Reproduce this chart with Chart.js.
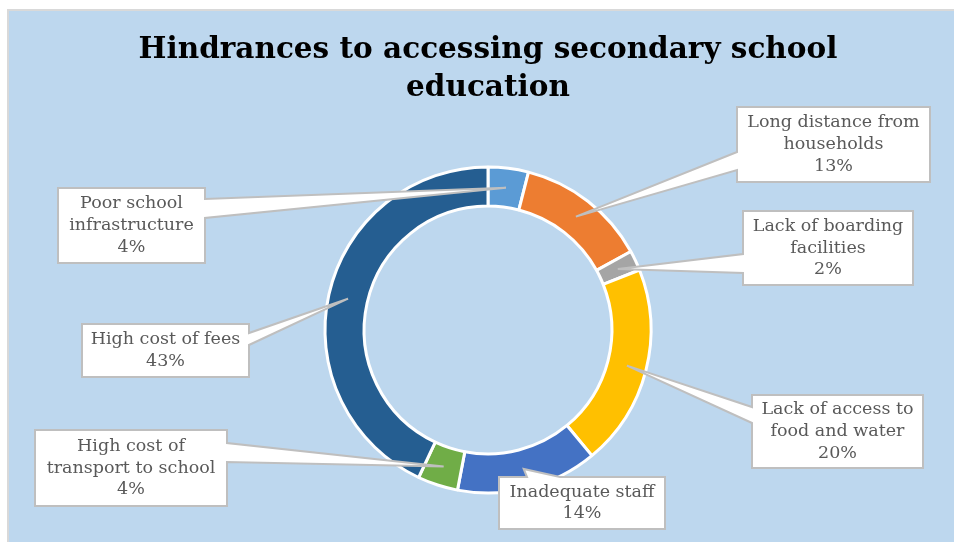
<!DOCTYPE html>
<html>
<head>
<meta charset="utf-8">
<title>Hindrances to accessing secondary school education</title>
<script src="https://cdn.jsdelivr.net/npm/chart.js@4"></script>
<style>
  body { margin: 0; background: #ffffff; }
  #wrap { width: 954px; height: 542px; }
</style>
</head>
<body>
<div id="wrap"><canvas id="hindranceChart" width="954" height="542"></canvas></div>
<script>
// chart data
const titleLines = ['Hindrances to accessing secondary school', 'education'];
const categories = [
    ['Poor school', 'infrastructure'],
    ['Long distance from', 'households'],
    ['Lack of boarding', 'facilities'],
    ['Lack of access to', 'food and water'],
    ['Inadequate staff'],
    ['High cost of', 'transport to school'],
    ['High cost of fees']
];
const shares = [4, 13, 2, 20, 14, 4, 43];
const sliceColors = ['#5B9BD5', '#ED7D31', '#A5A5A5', '#FFC000', '#4472C4', '#70AD47', '#255E91'];

// callout boxes: x, y, w, h, side of the pointer, pointer base (from, to)
const calloutLayout = [
    { x: 58,  y: 188, w: 147, h: 75, side: 'right', a: 199, b: 218 },
    { x: 737, y: 107, w: 193, h: 75, side: 'left',  a: 152, b: 170 },
    { x: 743, y: 211, w: 170, h: 74, side: 'left',  a: 254, b: 273 },
    { x: 752, y: 395, w: 171, h: 73, side: 'left',  a: 407, b: 423 },
    { x: 499, y: 477, w: 166, h: 52, side: 'top',   a: 527, b: 560 },
    { x: 35,  y: 430, w: 192, h: 76, side: 'right', a: 443, b: 462 },
    { x: 82,  y: 324, w: 167, h: 53, side: 'right', a: 333, b: 345 }
];

document.addEventListener('DOMContentLoaded', () => {
    const total = shares.reduce((s, v) => s + v, 0);

    // --- background panel like the Excel chart area ---
    const panelBackground = {
        id: 'panelBackground',
        beforeDraw(chart) {
            const c = chart.ctx;
            c.save();
            c.fillStyle = '#FFFFFF';
            c.fillRect(0, 0, chart.width, chart.height);
            c.fillStyle = '#D9D9D9';
            c.fillRect(7, 9, chart.width - 7, chart.height - 9);
            c.fillStyle = '#BDD7EE';
            c.fillRect(9, 11, chart.width - 9, chart.height - 11);
            c.restore();
        }
    };

    // --- title + callout labels ---
    const calloutLabels = {
        id: 'calloutLabels',
        afterDraw(chart) {
            const c = chart.ctx;
            const meta = chart.getDatasetMeta(0);
            c.save();

            c.fillStyle = '#000000';
            c.font = 'bold 29.5px "DejaVu Serif"';
            c.textAlign = 'center';
            c.textBaseline = 'middle';
            c.fillText(titleLines[0], 488, 50);
            c.fillText(titleLines[1], 488, 88);

            meta.data.forEach((arc, i) => {
                const box = calloutLayout[i];
                const tip = arc.tooltipPosition();
                const { x, y, w, h } = box;
                let pts;
                if (box.side === 'right') {
                    pts = [[x, y], [x + w, y], [x + w, box.a], [tip.x, tip.y], [x + w, box.b], [x + w, y + h], [x, y + h]];
                } else if (box.side === 'left') {
                    pts = [[x, y], [x + w, y], [x + w, y + h], [x, y + h], [x, box.b], [tip.x, tip.y], [x, box.a]];
                } else {
                    pts = [[x, y], [box.a, y], [tip.x, tip.y], [box.b, y], [x + w, y], [x + w, y + h], [x, y + h]];
                }
                c.beginPath();
                pts.forEach((p, k) => (k === 0 ? c.moveTo(p[0], p[1]) : c.lineTo(p[0], p[1])));
                c.closePath();
                c.fillStyle = '#FFFFFF';
                c.fill();
                c.strokeStyle = '#BFBFBF';
                c.lineWidth = 2;
                c.lineJoin = 'miter';
                c.stroke();

                const lines = categories[i].concat([Math.round(shares[i] / total * 100) + '%']);
                c.fillStyle = '#595959';
                c.font = '17.5px "DejaVu Serif"';
                const lh = 21.7;
                const cx = x + w / 2;
                const top = y + h / 2 - (lines.length - 1) * lh / 2;
                lines.forEach((t, k) => c.fillText(t, cx, top + k * lh));
            });
            c.restore();
        }
    };

    new Chart(document.getElementById('hindranceChart'), {
        type: 'doughnut',
        data: {
            labels: categories,
            datasets: [{
                data: shares,
                backgroundColor: sliceColors,
                borderColor: '#FFFFFF',
                borderWidth: 3
            }]
        },
        options: {
            responsive: false,
            animation: false,
            radius: 163,
            cutout: '76%',
            layout: { padding: { left: 22, right: 0, top: 120, bottom: 2 } },
            plugins: {
                legend: { display: false },
                tooltip: { enabled: false },
                title: { display: false }
            }
        },
        plugins: [panelBackground, calloutLabels]
    });
});
</script>
</body>
</html>
